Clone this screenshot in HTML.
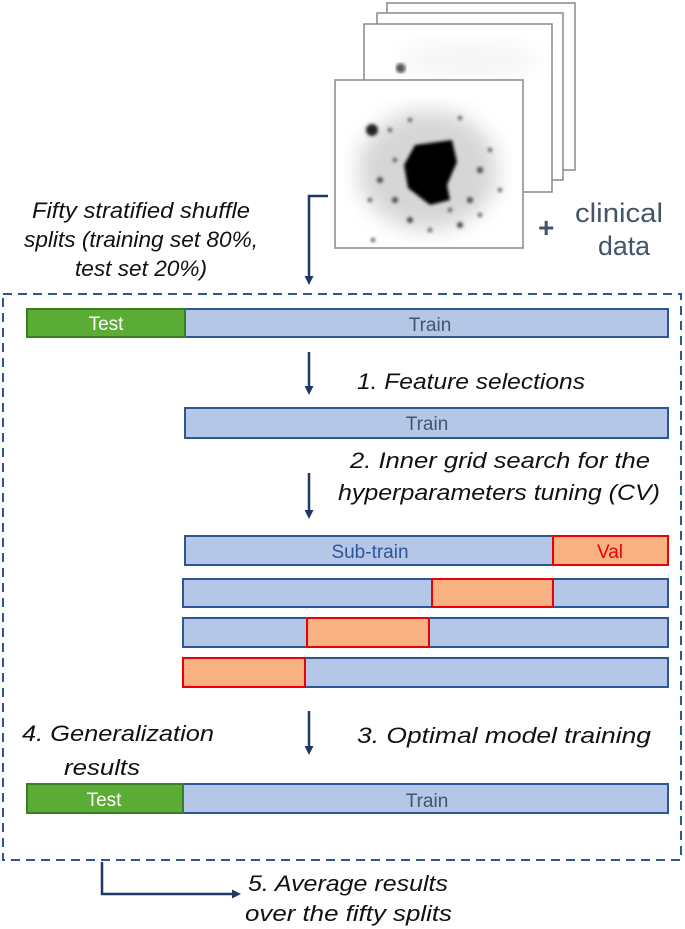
<!DOCTYPE html>
<html><head><meta charset="utf-8"><style>
html,body{margin:0;padding:0;background:#fff;width:685px;height:929px;overflow:hidden}
svg{display:block}
text{font-family:"Liberation Sans",sans-serif}
.it{font-style:italic;font-size:22px;fill:#111}
.lb{font-size:19px;fill:#44546a}
</style></head><body>
<svg width="685" height="929" viewBox="0 0 685 929" xmlns="http://www.w3.org/2000/svg">
<defs>
<marker id="ah" markerWidth="9" markerHeight="9" refX="4" refY="4.5" orient="auto" markerUnits="userSpaceOnUse"><path d="M0,0 L9,4.5 L0,9 Z" fill="#1f3864"/></marker>
<filter id="bl"><feGaussianBlur stdDeviation="1.5"/></filter>
<filter id="bl2"><feGaussianBlur stdDeviation="10"/></filter>
</defs>
<!-- image stack -->
<rect x="387" y="3" width="188" height="167" fill="#fff" stroke="#888" stroke-width="1.5"/>
<rect x="377" y="13" width="186" height="167" fill="#fff" stroke="#888" stroke-width="1.5"/>
<rect x="364" y="24" width="188" height="168" fill="#fff" stroke="#888" stroke-width="1.5"/>
<g filter="url(#bl)"><circle cx="401" cy="68" r="5" fill="#222"/></g>
<ellipse cx="470" cy="60" rx="70" ry="20" fill="#f6f6f6" filter="url(#bl2)"/>
<rect x="335" y="80" width="188" height="168" fill="#fff" stroke="#888" stroke-width="1.5"/>
<g>
<ellipse cx="428" cy="170" rx="70" ry="60" fill="#ccc" filter="url(#bl2)" opacity="0.8"/>
<g filter="url(#bl)" fill="#444">
<circle cx="372" cy="130" r="6" fill="#222"/>
<circle cx="390" cy="130" r="2"/><circle cx="410" cy="120" r="2"/><circle cx="460" cy="118" r="2"/>
<circle cx="380" cy="180" r="3"/><circle cx="395" cy="200" r="3"/><circle cx="470" cy="200" r="3"/>
<circle cx="480" cy="170" r="3"/><circle cx="410" cy="220" r="3"/><circle cx="460" cy="225" r="3"/>
<circle cx="373" cy="240" r="2"/><circle cx="500" cy="190" r="2"/><circle cx="420" cy="150" r="3"/>
<circle cx="395" cy="160" r="2"/><circle cx="450" cy="210" r="2"/><circle cx="480" cy="215" r="2"/>
<circle cx="370" cy="200" r="2"/><circle cx="430" cy="230" r="2"/><circle cx="490" cy="150" r="2"/>
</g>
<g filter="url(#bl)" fill="#000">
<path d="M415,145 L452,140 L457,162 L447,185 L450,200 L430,205 L408,188 L404,165 Z"/>
<circle cx="437" cy="192" r="8"/>
</g>
</g>
<text x="538" y="237" style="font-size:28px;font-weight:bold;fill:#44546a">+</text>
<text x="575" y="222" style="font-size:27px;fill:#44546a" textLength="88" lengthAdjust="spacingAndGlyphs">clinical</text>
<text x="598" y="255" style="font-size:27px;fill:#44546a" textLength="52" lengthAdjust="spacingAndGlyphs">data</text>
<!-- top text -->
<text class="it" x="141" y="218" text-anchor="middle" textLength="218" lengthAdjust="spacingAndGlyphs">Fifty stratified shuffle</text>
<text class="it" x="141" y="247" text-anchor="middle" textLength="234" lengthAdjust="spacingAndGlyphs">splits (training set 80%,</text>
<text class="it" x="141" y="276" text-anchor="middle" textLength="132" lengthAdjust="spacingAndGlyphs">test set 20%)</text>
<path d="M328,196 L309,196 L309,280" fill="none" stroke="#1f3864" stroke-width="2.5" marker-end="url(#ah)"/>
<!-- dashed box -->
<rect x="3" y="294" width="678" height="566" fill="none" stroke="#2f5597" stroke-width="2" stroke-dasharray="9,6"/>
<!-- bar 1 -->
<rect x="185" y="309" width="483" height="28" fill="#b4c7e7" stroke="#2f5597" stroke-width="2"/>
<rect x="27" y="309" width="158" height="28" fill="#5aac35" stroke="#3a7d22" stroke-width="2"/>
<text x="106" y="330" text-anchor="middle" style="font-size:19px;fill:#fff">Test</text>
<text x="430" y="331" text-anchor="middle" class="lb">Train</text>
<line x1="309" y1="352" x2="309" y2="390" stroke="#1f3864" stroke-width="2.5" marker-end="url(#ah)"/>
<text class="it" x="357" y="389" textLength="228" lengthAdjust="spacingAndGlyphs">1. Feature selections</text>
<!-- bar 2 -->
<rect x="185" y="408" width="483" height="30" fill="#b4c7e7" stroke="#2f5597" stroke-width="2"/>
<text x="427" y="430" text-anchor="middle" class="lb">Train</text>
<line x1="309" y1="473" x2="309" y2="514" stroke="#1f3864" stroke-width="2.5" marker-end="url(#ah)"/>
<text class="it" x="350" y="468" textLength="300" lengthAdjust="spacingAndGlyphs">2. Inner grid search for the</text>
<text class="it" x="338" y="500" textLength="322" lengthAdjust="spacingAndGlyphs">hyperparameters tuning (CV)</text>
<!-- CV bars -->
<rect x="185" y="536" width="483" height="29" fill="#b4c7e7" stroke="#2f5597" stroke-width="2"/>
<rect x="553" y="536" width="115" height="29" fill="#f8b183" stroke="#e00" stroke-width="2"/>
<text x="370" y="558" text-anchor="middle" style="font-size:19px;fill:#2f5597">Sub-train</text>
<text x="610" y="558" text-anchor="middle" style="font-size:19px;fill:#e00">Val</text>
<rect x="183" y="579" width="485" height="28" fill="#b4c7e7" stroke="#2f5597" stroke-width="2"/>
<rect x="432" y="579" width="121" height="28" fill="#f8b183" stroke="#e00" stroke-width="2"/>
<rect x="183" y="618" width="485" height="29" fill="#b4c7e7" stroke="#2f5597" stroke-width="2"/>
<rect x="307" y="618" width="122" height="29" fill="#f8b183" stroke="#e00" stroke-width="2"/>
<rect x="183" y="658" width="485" height="29" fill="#b4c7e7" stroke="#2f5597" stroke-width="2"/>
<rect x="183" y="658" width="122" height="29" fill="#f8b183" stroke="#e00" stroke-width="2"/>
<line x1="309" y1="711" x2="309" y2="750" stroke="#1f3864" stroke-width="2.5" marker-end="url(#ah)"/>
<text class="it" x="357" y="743" textLength="294" lengthAdjust="spacingAndGlyphs">3. Optimal model training</text>
<text class="it" x="22" y="741" textLength="192" lengthAdjust="spacingAndGlyphs">4. Generalization</text>
<text class="it" x="64" y="775" textLength="76" lengthAdjust="spacingAndGlyphs">results</text>
<!-- bar 7 -->
<rect x="183" y="784" width="485" height="29" fill="#b4c7e7" stroke="#2f5597" stroke-width="2"/>
<rect x="27" y="784" width="156" height="29" fill="#5aac35" stroke="#3a7d22" stroke-width="2"/>
<text x="104" y="806" text-anchor="middle" style="font-size:19px;fill:#fff">Test</text>
<text x="427" y="807" text-anchor="middle" class="lb">Train</text>
<!-- bottom connector -->
<path d="M102,862 L102,894 L236,894" fill="none" stroke="#1f3864" stroke-width="2.5" marker-end="url(#ah)"/>
<text class="it" x="248" y="891" textLength="200" lengthAdjust="spacingAndGlyphs">5. Average results</text>
<text class="it" x="245" y="921" textLength="207" lengthAdjust="spacingAndGlyphs">over the fifty splits</text>
</svg>
</body></html>
